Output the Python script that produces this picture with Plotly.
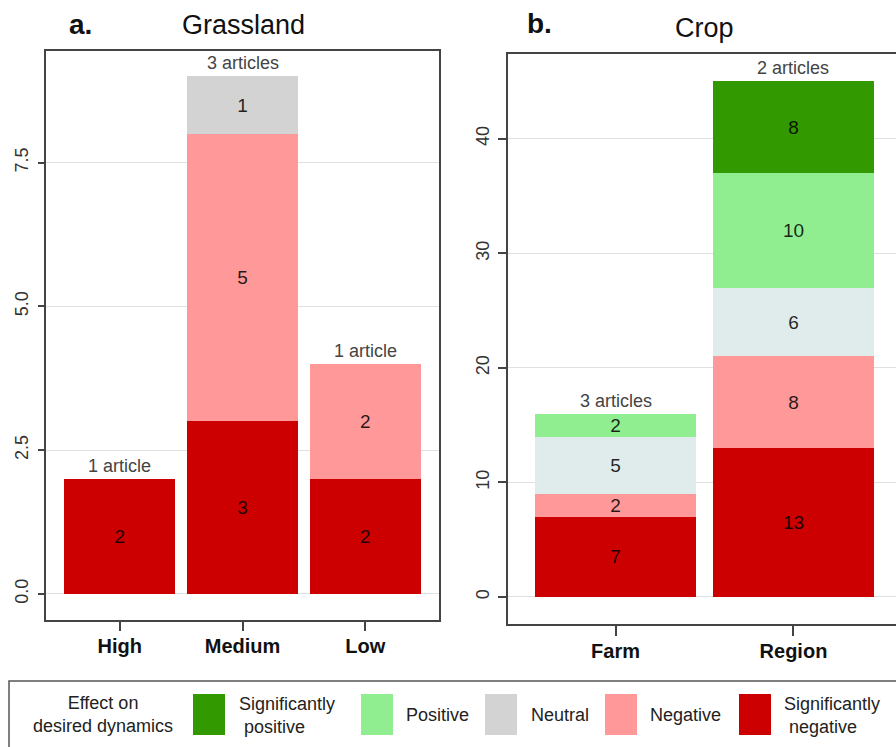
import plotly.graph_objects as go

W, H = 896, 747

# ---------------- data ----------------
grass_categories = ["High", "Medium", "Low"]
crop_categories = ["Farm", "Region"]

grass_sig_negative = [2, 3, 2]
grass_negative = [None, 5, 2]
grass_neutral = [None, 1, None]

crop_sig_negative = [7, 13]
crop_negative = [2, 8]
crop_neutral = [5, 6]
crop_positive = [2, 10]
crop_sig_positive = [None, 8]

grass_articles = ["1 article", "3 articles", "1 article"]
crop_articles = ["3 articles", "2 articles"]

grass_yticks = [0, 2.5, 5, 7.5]
grass_yticktext = ["0.0", "2.5", "5.0", "7.5"]
crop_yticks = [0, 10, 20, 30, 40]

legend_title = "Effect on<br>desired dynamics"
legend_labels = ["Significantly<br>\u00a0positive", "Positive", "Neutral", "Negative",
                 "Significantly<br>\u00a0negative"]

# ---------------- styles ----------------
C_SIGPOS = "#339900"
C_POS = "#90EE90"
C_NEU = "#D3D3D3"
C_NEU_CROP = "#E0ECEC"
C_NEG = "#FF9999"
C_SIGNEG = "#CC0000"
legend_colors = [C_SIGPOS, C_POS, C_NEU, C_NEG, C_SIGNEG]

FONT = "Liberation Sans, Arial, sans-serif"
TXT = "rgba(0,0,0,0.85)"


def px(x):
    return x / W


def py(y):
    return 1 - y / H


fig = go.Figure()


def add_bar(x, y, color, xa, ya):
    fig.add_trace(go.Bar(
        x=x, y=y, xaxis=xa, yaxis=ya,
        marker=dict(color=color, line=dict(width=0)),
        width=0.9,
        text=[("" if v is None else str(v)) for v in y],
        textposition="inside", insidetextanchor="middle", textangle=0,
        constraintext="none",
        textfont=dict(family=FONT, size=19, color=TXT),
        showlegend=False, hoverinfo="skip",
    ))


add_bar(grass_categories, grass_sig_negative, C_SIGNEG, "x", "y")
add_bar(grass_categories, grass_negative, C_NEG, "x", "y")
add_bar(grass_categories, grass_neutral, C_NEU, "x", "y")

add_bar(crop_categories, crop_sig_negative, C_SIGNEG, "x2", "y2")
add_bar(crop_categories, crop_negative, C_NEG, "x2", "y2")
add_bar(crop_categories, crop_neutral, C_NEU_CROP, "x2", "y2")
add_bar(crop_categories, crop_positive, C_POS, "x2", "y2")
add_bar(crop_categories, crop_sig_positive, C_SIGPOS, "x2", "y2")

annotations = []


def tot(*series):
    return [sum(v for v in vals if v is not None) for vals in zip(*series)]


for cat, t, lab in zip(grass_categories, tot(grass_sig_negative, grass_negative, grass_neutral), grass_articles):
    annotations.append(dict(x=cat, y=t, xref="x", yref="y", text=lab, showarrow=False,
                            xanchor="center", yanchor="bottom", yshift=1,
                            font=dict(family=FONT, size=18, color="#444444")))
for cat, t, lab in zip(crop_categories, tot(crop_sig_negative, crop_negative, crop_neutral, crop_positive,
                                           crop_sig_positive), crop_articles):
    annotations.append(dict(x=cat, y=t, xref="x2", yref="y2", text=lab, showarrow=False,
                            xanchor="center", yanchor="bottom", yshift=1,
                            font=dict(family=FONT, size=18, color="#444444")))


def paper_text(x, y, text, size, xanchor="center", align="center", color="#111111"):
    return dict(x=px(x), y=py(y), xref="paper", yref="paper", text=text, showarrow=False,
                xanchor=xanchor, yanchor="middle", align=align,
                font=dict(family=FONT, size=size, color=color))


# titles
annotations += [
    paper_text(80, 25, "<b>a.</b>", 28),
    paper_text(243, 25, "Grassland", 27),
    paper_text(539, 23, "<b>b.</b>", 28),
    paper_text(704, 28, "Crop", 27),
]

# legend (drawn manually)
shapes = [dict(type="rect", xref="paper", yref="paper", x0=px(9), x1=1.02, y0=-0.03, y1=py(681),
               line=dict(color="#555555", width=1.5), fillcolor="rgba(0,0,0,0)")]
annotations.append(paper_text(103, 714, legend_title, 18, color="#222222"))
swatch_x = [193, 361, 485, 605, 739]
label_x = [237, 404, 529, 648, 782]
for sx, lx, col, lab in zip(swatch_x, label_x, legend_colors, legend_labels):
    shapes.append(dict(type="rect", xref="paper", yref="paper", x0=px(sx), x1=px(sx + 32),
                       y0=py(735), y1=py(694), line=dict(width=0), fillcolor=col))
    annotations.append(paper_text(lx, 715, lab, 18, xanchor="left", align="left", color="#222222"))

axis_common = dict(showline=True, linecolor="#444444", linewidth=1.5, automargin=False, zeroline=False)

fig.update_layout(
    width=W, height=H,
    margin=dict(l=0, r=0, t=0, b=0),
    paper_bgcolor="white", plot_bgcolor="white",
    barmode="stack", bargap=0.1,
    showlegend=False,
    font=dict(family=FONT, color="#222222"),
    xaxis=dict(domain=[px(46), px(439)], anchor="y", range=[-0.6, 2.6], mirror=True,
               ticks="outside", ticklen=9, tickwidth=1.5, tickcolor="#444444",
               tickfont=dict(family=FONT, size=20, color="#111111", weight="bold"),
               ticklabelstandoff=-2, showgrid=False, **axis_common),
    yaxis=dict(domain=[py(620), py(51)], anchor="x", range=[-0.453, 9.44], mirror=True,
               tickvals=grass_yticks, ticktext=grass_yticktext, tickangle=-90,
               ticks="outside", ticklen=6, tickwidth=1.5, tickcolor="#444444",
               tickfont=dict(family=FONT, size=18, color="#333333"),
               ticklabelstandoff=3,
               showgrid=True, gridcolor="#E0E0E0", gridwidth=1.3, **axis_common),
    xaxis2=dict(domain=[px(508), 1.0], anchor="y2", range=[-0.604, 1.576], mirror=True,
                ticks="outside", ticklen=10, tickwidth=1.5, tickcolor="#444444",
                tickfont=dict(family=FONT, size=20, color="#111111", weight="bold"),
                ticklabelstandoff=-2, showgrid=False, **axis_common),
    yaxis2=dict(domain=[py(624), py(54)], anchor="x2", range=[-2.36, 47.4], mirror=False,
                tickvals=crop_yticks, tickangle=-90,
                ticks="outside", ticklen=8, tickwidth=1.5, tickcolor="#444444",
                tickfont=dict(family=FONT, size=18, color="#333333"),
                ticklabelstandoff=2,
                showgrid=True, gridcolor="#E0E0E0", gridwidth=1.3, **axis_common),
    annotations=annotations,
    shapes=shapes,
)

fig.write_html("out.html", config={"displayModeBar": False},
               post_script="document.body.style.margin='0px';")
